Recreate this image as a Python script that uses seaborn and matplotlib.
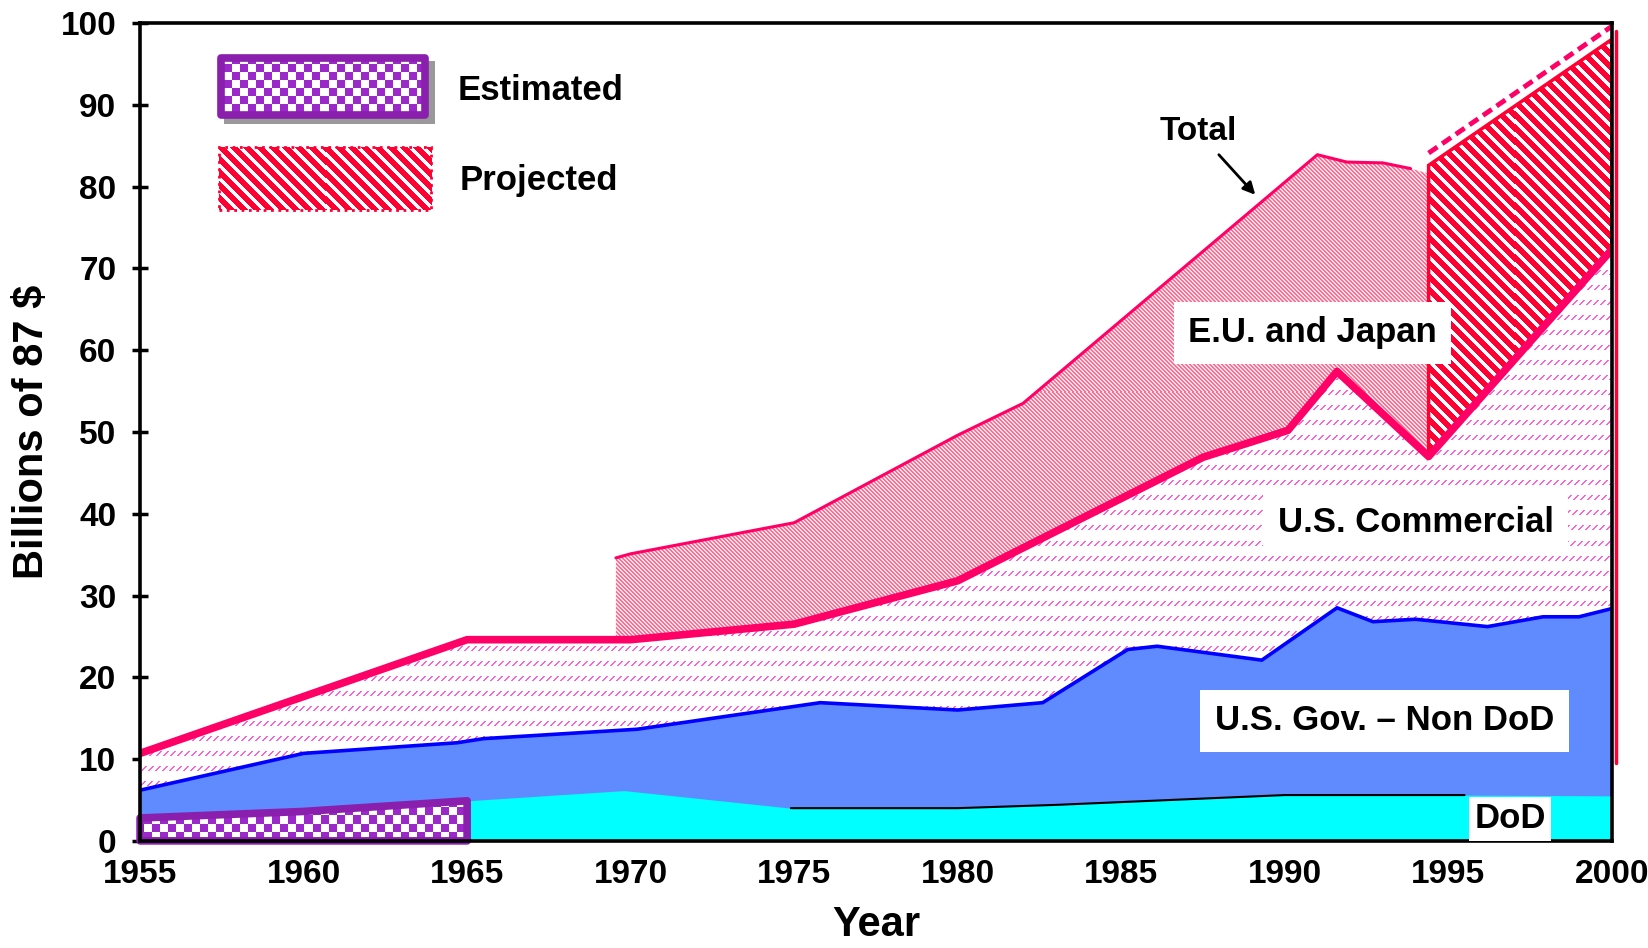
import numpy as np
import matplotlib
matplotlib.use("Agg")
import matplotlib.pyplot as plt
import seaborn as sns
from matplotlib.colors import to_rgba
from matplotlib.patches import Rectangle

# ---- data (billions of 87 $) ----
dod_years = [1955, 1960, 1965, 1969.8, 1974.9, 1980, 1983, 1990, 1995.5, 2000]
dod_vals = [2.8, 3.6, 4.9, 6.15, 4.0, 4.0, 4.4, 5.6, 5.6, 5.5]

est_years = [1955, 1960, 1965]          # estimated part of DoD
est_vals = [2.8, 3.6, 4.9]

gov_years = [1955, 1960, 1964.7, 1965.5, 1970.2, 1975.8, 1980, 1982.6, 1985.2,
             1986.1, 1989.3, 1991.6, 1992.7, 1994.0, 1996.2, 1997.9, 1999.0, 2000]
gov_vals = [6.2, 10.7, 12.0, 12.5, 13.65, 16.9, 16.0, 16.9, 23.4,
            23.8, 22.1, 28.5, 26.8, 27.1, 26.2, 27.4, 27.4, 28.4]

comm_years = [1955, 1965, 1970, 1975, 1980, 1987.5, 1990.1, 1991.6, 1994.4, 2000]
comm_vals = [10.7, 24.6, 24.6, 26.5, 31.8, 46.9, 50.2, 57.4, 47.0, 72.3]

total_years = [1969.55, 1970, 1975, 1980, 1982, 1991.0, 1991.9, 1993.0, 1993.85, 1994.4]
total_vals = [34.6, 35.1, 38.9, 49.6, 53.5, 83.9, 83.0, 82.9, 82.2, 81.6]

proj_years = [1994.4, 2000]
proj_low = [47.0, 72.3]
proj_high = [82.6, 98.0]
proj_trend = [84.1, 99.6]
proj_rim = [9.5, 99.0]

labels = ["E.U. and Japan", "U.S. Commercial", "U.S. Gov. \u2013 Non DoD", "DoD"]
label_x = [1990.85, 1994.0, 1993.05, 1996.9]
label_y = [62.1, 38.9, 14.7, 2.7]

W, H, DPI = 16.48, 9.48, 100

sns.set_theme(style="white")
plt.rcParams["font.family"] = ["Liberation Sans", "DejaVu Sans"]
plt.rcParams["font.weight"] = "bold"
for k in ["text.color", "axes.labelcolor", "xtick.color", "ytick.color"]:
    plt.rcParams[k] = "black"

fig, ax = plt.subplots(figsize=(W, H), dpi=DPI)
fig.subplots_adjust(left=0.085, right=0.978, bottom=0.113, top=0.9757)
ax.set_xlim(1955, 2000)
ax.set_ylim(0, 100)
ax.set_autoscale_on(False)


def pattern(extent, rule, fg, bg, clip=None, transform=None, z=2):
    # pixel-exact pattern image, clipped to a patch
    T = transform if transform is not None else ax.transData
    (x0, y0), (x1, y1) = T.transform([(extent[0], extent[2]), (extent[1], extent[3])])
    w, h = int(round(x1 - x0)), int(round(y1 - y0))
    c = np.arange(w) + int(round(x0))
    r = np.arange(h) + int(round(H * DPI - y1))
    C, R = np.meshgrid(c, r)
    img = np.where(rule(C, R)[..., None], to_rgba(fg), to_rgba(bg))
    im = ax.imshow(img, extent=extent, transform=T, origin="upper",
                   interpolation="nearest", aspect="auto", zorder=z)
    if clip is not None:
        im.set_clip_path(clip)
    return im


checker = lambda C, R: ((C // 8) + (R // 8)) % 2 == 0
dashes = lambda C, R: ((R % 15) < 5) & (((C + R) % 7) < 2)
dense = lambda C, R: ((C - R) % 4) < 2
stripes = lambda C, R: ((C - R) % 13) < 5

# U.S. Gov non-DoD and DoD
ax.fill_between(gov_years, 0, gov_vals, color="#5f8bff", lw=0, zorder=1)
ax.fill_between(dod_years, 0, dod_vals, color="#00ffff", lw=0, zorder=1.5)

# U.S. Commercial
comm_poly = ax.fill(comm_years + gov_years[::-1], comm_vals + gov_vals[::-1],
                    facecolor="none", edgecolor="none")[0]
pattern((1955, 2000, 0, 75), dashes, "#ff5fdc", "white", clip=comm_poly, z=2)

# E.U. and Japan
eu_bx = [y for y in comm_years if total_years[0] < y <= total_years[-1]][::-1]
eu_by = [comm_vals[comm_years.index(y)] for y in eu_bx]
eu_poly = ax.fill(total_years + eu_bx + [total_years[0]],
                  total_vals + eu_by + [float(np.interp(total_years[0], comm_years, comm_vals))],
                  facecolor="none", edgecolor="none")[0]
pattern((1969, 1996, 20, 90), dense, "#ff6f92", "#ffe0e8", clip=eu_poly, z=2)

# Projected
proj_poly = ax.fill(proj_years + proj_years[::-1], proj_low + proj_high[::-1],
                    facecolor="none", edgecolor="#ff0033", lw=2.5, zorder=2.3)[0]
pattern((1994, 2000, 40, 100), stripes, "white", "#ff0033", clip=proj_poly, z=2.2)
ax.plot(proj_years, proj_trend, color="#ff0066", lw=3.5, ls=(0, (2.2, 1.2)), zorder=4)
ax.plot([2000.12, 2000.12], proj_rim, color="#ff0033", lw=2.5, clip_on=False, zorder=4)

# Estimated
est_poly = ax.fill(est_years + est_years[::-1], est_vals + [0, 0, 0],
                   facecolor="none", edgecolor="#8a1fae", lw=5.5, joinstyle="round",
                   clip_on=False, zorder=3.5)[0]
pattern((1955, 1965, 0, 6), checker, "#9b28c8", "white", clip=est_poly, z=3)

# lines
sns.lineplot(x=gov_years, y=gov_vals, ax=ax, color="#0000ff", lw=2.6,
             sort=False, estimator=None, zorder=4)
sns.lineplot(x=dod_years[4:9], y=dod_vals[4:9], ax=ax, color="black", lw=1.5,
             sort=False, estimator=None, zorder=4)
sns.lineplot(x=comm_years, y=comm_vals, ax=ax, color="#ff0066", lw=5.5,
             sort=False, estimator=None, zorder=5)
sns.lineplot(x=total_years[:-1], y=total_vals[:-1], ax=ax, color="#ff0066", lw=2.2,
             sort=False, estimator=None, zorder=5)

# legend (custom boxes)
ax.add_patch(Rectangle((0.0567, 0.876), 0.1435, 0.078, transform=ax.transAxes,
                       facecolor="#999999", edgecolor="none", zorder=6))
est_box = Rectangle((0.055, 0.8872), 0.1388, 0.0696, transform=ax.transAxes,
                    facecolor="none", edgecolor="#8a1fae", lw=5.5, joinstyle="round", zorder=6.2)
ax.add_patch(est_box)
pattern((0.055, 0.1938, 0.8872, 0.9568), checker, "#9b28c8", "white",
        transform=ax.transAxes, z=6.1)
proj_box = Rectangle((0.0534, 0.7714), 0.1443, 0.077, transform=ax.transAxes,
                     facecolor="none", edgecolor="#ff0033", lw=2, ls=":", zorder=6.2)
ax.add_patch(proj_box)
pattern((0.0534, 0.1977, 0.7714, 0.8484), stripes, "white", "#ff0033",
        transform=ax.transAxes, z=6.1)
ax.text(0.216, 0.918, "Estimated", transform=ax.transAxes, fontsize=25,
        fontweight="bold", ha="left", va="center", zorder=7)
ax.text(0.217, 0.807, "Projected", transform=ax.transAxes, fontsize=25,
        fontweight="bold", ha="left", va="center", zorder=7)

# area labels
for txt, x, y in zip(labels, label_x, label_y):
    pad = 0.15 if txt == "DoD" else 0.42
    ax.text(x, y, txt, fontsize=25, fontweight="bold", ha="center", va="center",
            zorder=7, bbox=dict(boxstyle=f"square,pad={pad}", facecolor="white", edgecolor="none"))

ax.annotate("Total", xy=(1989.1, 79.0), xytext=(1987.35, 86.7), fontsize=24,
            fontweight="bold", ha="center", va="center", zorder=7,
            arrowprops=dict(arrowstyle="-|>", color="black", lw=2, mutation_scale=18,
                            shrinkA=4, shrinkB=0))

# axes styling
ax.set_xticks(range(1955, 2001, 5))
ax.set_yticks(range(0, 101, 10))
ax.tick_params(axis="x", length=0, pad=13, labelsize=24)
ax.tick_params(axis="y", direction="inout", length=12, width=2.5, pad=11,
               labelsize=24, color="black", left=True)
for t in ax.get_xticklabels() + ax.get_yticklabels():
    t.set_fontweight("bold")
for s in ax.spines.values():
    s.set_visible(True)
    s.set_color("black")
    s.set_linewidth(2.6)
    s.set_zorder(6)
ax.set_xlabel("Year", fontsize=30, fontweight="bold", labelpad=11)
ax.set_ylabel("Billions of 87 $", fontsize=30, fontweight="bold", labelpad=6)
ax.grid(False)

fig.savefig("out.png", dpi=DPI)
